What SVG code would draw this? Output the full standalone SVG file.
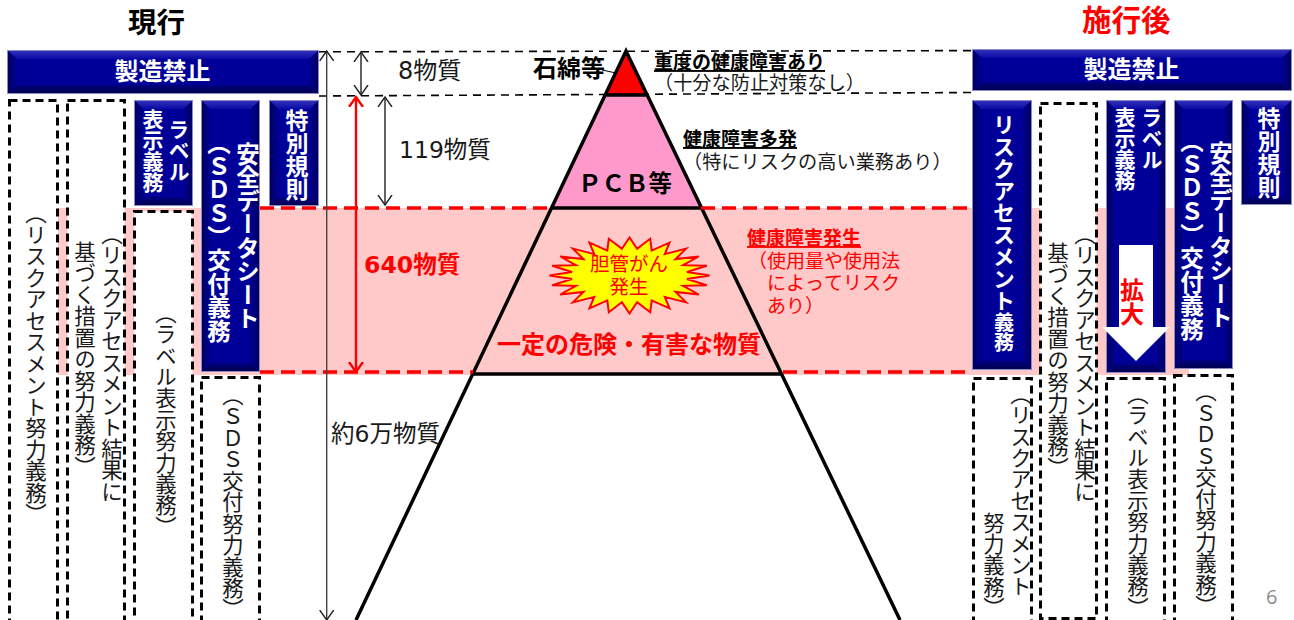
<svg xmlns="http://www.w3.org/2000/svg" width="1294" height="620" viewBox="0 0 1294 620">
<style>
text{font-family:"Noto Sans CJK JP","Noto Sans CJK SC",sans-serif;fill:#1a1a1a;font-kerning:none;text-spacing-trim:space-all;font-feature-settings:"kern" 0,"vkrn" 0,"palt" 0}
.v{writing-mode:vertical-rl}
.lat{font-family:"DejaVu Sans","Noto Sans CJK JP",sans-serif}
.w{fill:#fff;font-weight:700}
.r{fill:#f00}
.b{font-weight:700;fill:#000}
.u{text-decoration:underline}
.s21{font-size:21px}
.s214{font-size:21.4px}
.dash{fill:#fff;stroke:#000;stroke-width:3;stroke-dasharray:8 5}
.face{fill:#000099;stroke:#8a8ac8;stroke-width:1}
.bt{fill:url(#bevT)}
.bb{fill:url(#bevB)}
.bl{fill:url(#bevL)}
.br{fill:url(#bevR)}
.tri{stroke:#000;stroke-width:3.5;fill:none}
.rdash{stroke:#f00;stroke-width:3.5;stroke-dasharray:14 7;fill:none}
.kdash{stroke:#000;stroke-width:1.6;stroke-dasharray:8 6;fill:none}
.ar{stroke:#222;stroke-width:1.4;fill:none;marker-start:url(#o);marker-end:url(#o)}
</style>
<defs>
<marker id="o" markerUnits="userSpaceOnUse" markerWidth="24" markerHeight="24" refX="10" refY="10" orient="auto-start-reverse"><path d="M0,3 L10,10 L0,17" fill="none" stroke="#222" stroke-width="1.4"/></marker>
<marker id="or" markerUnits="userSpaceOnUse" markerWidth="24" markerHeight="24" refX="10" refY="10" orient="auto-start-reverse"><path d="M0,3 L10,10 L0,17" fill="none" stroke="#f00" stroke-width="2.4"/></marker>
<linearGradient id="bevT" x1="0" y1="0" x2="0" y2="1"><stop offset="0" stop-color="#3030b8"/><stop offset="1" stop-color="#0a0aa6"/></linearGradient>
<linearGradient id="bevB" x1="0" y1="0" x2="0" y2="1"><stop offset="0" stop-color="#000080"/><stop offset="1" stop-color="#000050"/></linearGradient>
<linearGradient id="bevL" x1="0" y1="0" x2="1" y2="0"><stop offset="0" stop-color="#000060"/><stop offset="1" stop-color="#000090"/></linearGradient>
<linearGradient id="bevR" x1="0" y1="0" x2="1" y2="0"><stop offset="0" stop-color="#000090"/><stop offset="1" stop-color="#000060"/></linearGradient>
</defs>

<g id="band"><rect x="58" y="208" width="1131" height="167" fill="#ffc9c9"/></g>

<g id="pyramid">
<polygon points="626,51 605,95 647,95" fill="#f00"/>
<polygon points="605,95 647,95 701,208 552,208" fill="#ff99cc"/>
<path class="tri" d="M356,620 L626,51 L900,620 M605,95 H647 M552,208 H701 M473,374 H781"/>
</g>

<g id="connectors">
<path class="kdash" d="M319,51.8 L972,50.6"/>
<path class="kdash" d="M319,96 L972,92.5"/>
<path class="rdash" d="M260,208 H552 M701,208 H1035"/>
<path class="rdash" d="M260,372 H473 M783,372 H972"/>
<path class="ar" style="stroke:#444" d="M326.7,51 V620"/>
<path class="ar" d="M361,52 V95"/>
<path class="ar" d="M385,97 V205"/>
<path d="M356,97 V372" fill="none" stroke="#f00" stroke-width="2.4" marker-start="url(#or)" marker-end="url(#or)"/>
<path d="M602,70 L616,73" fill="none" stroke="#000" stroke-width="1"/>
</g>

<g id="title-left"><text class="b" x="128" y="33" font-size="28.5">現行</text></g>
<g id="title-right"><text class="b r" style="fill:#f00" x="1082" y="31" font-size="29.5">施行後</text></g>

<g id="left-ban">
<rect class="face" x="7.5" y="50.5" width="311" height="43"/>
<path class="bt" d="M8,51H318L309,59H17Z"/><path class="bb" d="M8,93H318L309,85H17Z"/><path class="bl" d="M8,51L17,59V85L8,93Z"/><path class="br" d="M318,51L309,59V85L318,93Z"/>
<text class="w" x="162.5" y="80" font-size="24" text-anchor="middle">製造禁止</text>
</g>

<g id="left-risk"><rect class="dash" x="9.5" y="100.5" width="48" height="540"/>
<text class="v" font-size="21.5" x="36" y="202.5">（リスクアセスメント努力義務）</text></g>

<g id="left-result"><rect class="dash" x="67.5" y="100.5" width="57" height="540"/>
<text class="v" font-size="21.5" x="112" y="223">（リスクアセスメント結果に</text>
<text class="v" font-size="21.5" x="85" y="241">基づく措置の努力義務）</text></g>

<g id="left-label-duty">
<rect class="face" x="134.5" y="100.5" width="58" height="105"/>
<path class="bt" d="M135,101H192L184,109H143Z"/><path class="bb" d="M135,205H192L184,197H143Z"/><path class="bl" d="M135,101L143,109V197L135,205Z"/><path class="br" d="M192,101L184,109V197L192,205Z"/>
<text class="v w s21" x="179" y="119">ラベル</text>
<text class="v w s21" x="153" y="109">表示義務</text>
</g>

<g id="left-label-effort"><rect class="dash" x="134.5" y="211.5" width="58" height="430"/>
<text class="v s214" x="166" y="302">（ラベル表示努力義務）</text></g>

<g id="left-sds">
<rect class="face" x="201.5" y="100.5" width="58" height="271"/>
<path class="bt" d="M202,101H259L251,109H210Z"/><path class="bb" d="M202,371H259L251,363H210Z"/><path class="bl" d="M202,101L210,109V363L202,371Z"/><path class="br" d="M259,101L251,109V363L259,371Z"/>
<text class="v w" font-size="23.5" x="248" y="142">安全データシート</text>
<text class="v w" font-size="23.5" x="219" y="131">（ＳＤＳ）交付義務</text>
</g>

<g id="left-sds-effort"><rect class="dash" x="201.5" y="377.5" width="58" height="260"/>
<text class="v s214" x="233" y="384.5">（ＳＤＳ交付努力義務）</text></g>

<g id="left-special">
<rect class="face" x="269.5" y="100.5" width="49" height="105"/>
<path class="bt" d="M270,101H318L310,109H278Z"/><path class="bb" d="M270,205H318L310,197H278Z"/><path class="bl" d="M270,101L278,109V197L270,205Z"/><path class="br" d="M318,101L310,109V197L318,205Z"/>
<text class="v w" font-size="23" x="297" y="109">特別規則</text>
</g>

<g id="labels-count">
<text x="398" y="79" font-size="24"><tspan class="lat">8</tspan>物質</text>
<text x="399" y="158" font-size="23.5"><tspan class="lat">119</tspan>物質</text>
<text style="fill:#f00;font-weight:700" x="364" y="273" font-size="23.6"><tspan class="lat">640</tspan>物質</text>
<text x="331" y="442" font-size="23.5">約<tspan class="lat">6</tspan>万物質</text>
</g>

<g id="level-asbestos">
<text class="b" x="533" y="77" font-size="24">石綿等</text>
<text class="b u" x="654" y="69" font-size="19">重度の健康障害あり</text>
<text x="654" y="90" font-size="19.2">（十分な防止対策なし）</text>
</g>
<g id="level-pcb">
<text class="b" x="578" y="192" font-size="23.5">ＰＣＢ等</text>
<text class="b u" x="683" y="146" font-size="19">健康障害多発</text>
<text x="683" y="169" font-size="19.2">（特にリスクの高い業務あり）</text>
</g>
<g id="level-hazard">
<text class="b u" style="fill:#f00" x="747" y="245" font-size="19">健康障害発生</text>
<text class="r" x="748" y="268" font-size="19">（使用量や使用法</text>
<text class="r" x="767" y="290" font-size="19">によってリスク</text>
<text class="r" x="767" y="313" font-size="19">あり）</text>
<text class="b" style="fill:#f00" x="497" y="353" font-size="24">一定の危険・有害な物質</text>
</g>

<g id="burst">
<polygon transform="translate(629.5,275.5)" fill="#ff0" stroke="#f00" stroke-width="2" points="80,0 57.5,3.5 77.3,9.8 53.6,10.3 69.3,19 46,16.4 56.6,26.9 35.3,21.4 40,32.9 22.2,24.9 20.7,36.7 7.6,26.8 0,38 -7.6,26.8 -20.7,36.7 -22.2,24.9 -40,32.9 -35.3,21.4 -56.6,26.9 -46,16.4 -69.3,19 -53.6,10.3 -77.3,9.8 -57.5,3.5 -80,0 -57.5,-3.5 -77.3,-9.8 -53.6,-10.3 -69.3,-19 -46,-16.4 -56.6,-26.9 -35.3,-21.4 -40,-32.9 -22.2,-24.9 -20.7,-36.7 -7.6,-26.8 0,-38 7.6,-26.8 20.7,-36.7 22.2,-24.9 40,-32.9 35.3,-21.4 56.6,-26.9 46,-16.4 69.3,-19 53.6,-10.3 77.3,-9.8 57.5,-3.5"/>
<text class="r" x="629" y="271" font-size="19.5" text-anchor="middle">胆管がん</text>
<text class="r" x="629" y="294" font-size="19.5" text-anchor="middle">発生</text>
</g>

<g id="right-ban">
<rect class="face" x="972.5" y="49.5" width="319" height="41"/>
<path class="bt" d="M973,50H1291L1282,58H982Z"/><path class="bb" d="M973,90H1291L1282,82H982Z"/><path class="bl" d="M973,50L982,58V82L973,90Z"/><path class="br" d="M1291,50L1282,58V82L1291,90Z"/>
<text class="w" x="1131.5" y="78" font-size="24" text-anchor="middle">製造禁止</text>
</g>

<g id="right-risk">
<rect class="face" x="972.5" y="100.5" width="59" height="269"/>
<path class="bt" d="M973,101H1031L1023,109H981Z"/><path class="bb" d="M973,369H1031L1023,361H981Z"/><path class="bl" d="M973,101L981,109V361L973,369Z"/><path class="br" d="M1031,101L1023,109V361L1031,369Z"/>
<text class="v w" font-size="22" x="1004" y="114">リスクアセスメント<tspan font-size="20">義務</tspan></text>
</g>

<g id="right-result"><rect class="dash" x="1040.5" y="103.5" width="56" height="515"/>
<text class="v" font-size="21.5" x="1085" y="223">（リスクアセスメント結果に</text>
<text class="v" font-size="21.5" x="1058" y="242">基づく措置の努力義務）</text></g>

<g id="right-label-duty">
<rect class="face" x="1106.5" y="100.5" width="59" height="272"/>
<path class="bt" d="M1107,101H1165L1157,109H1115Z"/><path class="bb" d="M1107,372H1165L1157,364H1115Z"/><path class="bl" d="M1107,101L1115,109V364L1107,372Z"/><path class="br" d="M1165,101L1157,109V364L1165,372Z"/>
<text class="v w s21" x="1152" y="107">ラベル</text>
<text class="v w s21" x="1125" y="107">表示義務</text>
<polygon fill="#fff" points="1119,245 1153,245 1153,327 1170,327 1136,361 1102,327 1119,327"/>
<text class="v b" style="fill:#f00" font-size="24" x="1132" y="278">拡大</text>
</g>

<g id="right-sds">
<rect class="face" x="1174.5" y="100.5" width="58" height="268"/>
<path class="bt" d="M1175,101H1232L1224,109H1183Z"/><path class="bb" d="M1175,368H1232L1224,360H1183Z"/><path class="bl" d="M1175,101L1183,109V360L1175,368Z"/><path class="br" d="M1232,101L1224,109V360L1232,368Z"/>
<text class="v w" font-size="23.5" x="1221" y="141">安全データシート</text>
<text class="v w" font-size="23.5" x="1192" y="129">（ＳＤＳ）交付義務</text>
</g>

<g id="right-special">
<rect class="face" x="1241.5" y="100.5" width="50" height="104"/>
<path class="bt" d="M1242,101H1291L1283,109H1250Z"/><path class="bb" d="M1242,204H1291L1283,196H1250Z"/><path class="bl" d="M1242,101L1250,109V196L1242,204Z"/><path class="br" d="M1291,101L1283,109V196L1291,204Z"/>
<text class="v w" font-size="23" x="1269" y="107">特別規則</text>
</g>

<g id="right-risk-effort"><rect class="dash" x="973.5" y="378.5" width="58" height="260"/>
<text class="v" font-size="21.4" x="1021" y="383">（リスクアセスメント</text>
<text class="v" font-size="21.3" x="994" y="512">努力義務）</text></g>

<g id="right-label-effort"><rect class="dash" x="1106.5" y="378.5" width="58" height="260"/>
<text class="v s214" x="1138" y="383">（ラベル表示努力義務）</text></g>

<g id="right-sds-effort"><rect class="dash" x="1174.5" y="375.5" width="58" height="262"/>
<text class="v" font-size="21.5" x="1206" y="380.5">（ＳＤＳ交付努力義務）</text></g>

<g id="page"><text x="1266" y="604" font-size="20" style="font-family:'Open Sans',sans-serif;fill:#8c8c8c">6</text></g>
</svg>
